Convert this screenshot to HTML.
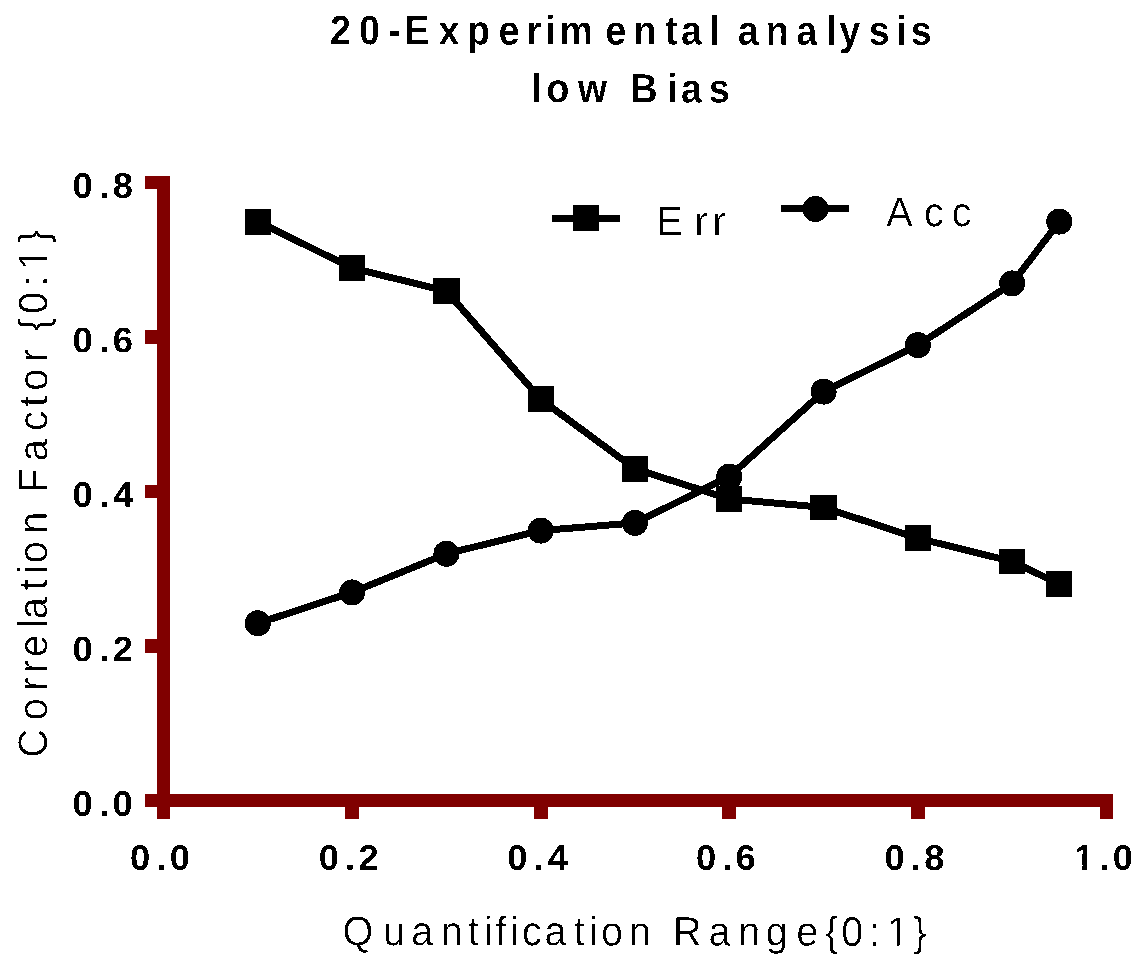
<!DOCTYPE html>
<html lang="en"><head><meta charset="utf-8"><title>20-Experimental analysis low Bias</title>
<style>
html,body{margin:0;padding:0;background:#fff;}
body{width:1148px;height:973px;overflow:hidden;}
svg{display:block;}
text{font-family:"Liberation Sans",Arial,sans-serif;fill:#000;}
.title{font-size:41.2px;font-weight:bold;stroke:#fff;stroke-width:0.15px;}
.label{font-size:41.2px;font-weight:normal;stroke:#fff;stroke-width:0.22px;}
.tick{font-size:35.6px;font-weight:bold;}
</style></head><body>
<svg width="1148" height="973" viewBox="0 0 1148 973">
<defs><filter id="alias" x="0" y="0" width="1148" height="973" filterUnits="userSpaceOnUse" color-interpolation-filters="sRGB"><feComponentTransfer><feFuncR type="discrete" tableValues="0 1"/><feFuncG type="discrete" tableValues="0 1"/><feFuncB type="discrete" tableValues="0 1"/></feComponentTransfer></filter></defs>
<g filter="url(#alias)">
<rect x="0" y="0" width="1148" height="973" fill="#fff"/>
<text class="title" transform="translate(331.4,44.3) rotate(0.05) scale(0.92,1)" y="0" x="-1.4 30.1 61.7 79.1 116.5 147.4 181.7 212.1 232.1 247.6 297.8 328.4 362.7 379.9 410.9 422.3 441.6 472.2 505.3 537.9 552.0 584.0 614.0 629.8">20-Experimental analysis</text>
<text class="title" transform="translate(533.8,102.3) rotate(0.05) scale(0.92,1)" y="0" x="-2.8 13.4 47.8 79.8 104.8 144.8 159.9 190.3">low Bias</text>
<text class="label" transform="translate(345.1,945.2) rotate(0.05) scale(0.96,1)" y="0" x="-2.7 39.7 68.8 99.7 127.9 144.4 156.8 171.7 184.2 207.8 238.5 254.2 266.5 295.5 318.5 341.5 378.6 409.5 438.3 469.9 499.8 516.9 545.9 563.9 591.9">Quantification Range{0:1}</text><g transform="translate(345.1,945.2) rotate(0.05) scale(0.96,1)" fill="#fff"><rect x="566.04" y="-3.68" width="8.42" height="4.68"/><rect x="577.70" y="-3.68" width="8.10" height="4.68"/></g>
<text class="label" transform="translate(46.9,755.0) rotate(-89.95) scale(0.96,1)" y="0" x="-2.6 36.3 67.0 85.1 102.1 132.2 141.4 171.6 188.5 199.7 230.4 253.4 273.4 306.1 337.8 362.7 379.4 409.1 422.8 441.8 459.3 487.9 505.1 533.3">Correlation Factor {0:1}</text><g transform="translate(46.9,755.0) rotate(-89.95) scale(0.96,1)" fill="#fff"><rect x="507.24" y="-3.68" width="8.42" height="4.68"/><rect x="518.90" y="-3.68" width="8.10" height="4.68"/></g>
<text class="label" transform="translate(659.8,235.3) rotate(0.05) scale(0.96,1)" y="0" x="-3.5 36.1 54.8">Err</text>
<text class="label" transform="translate(887.0,226.1) rotate(0.05) scale(0.96,1)" y="0" x="-0.7 38.6 67.4">Acc</text>
<text class="tick" transform="translate(131.5,869.7) rotate(0.05) scale(1.02,1)" y="0" x="-1.4 24.4 37.4">0.0</text>
<text class="tick" transform="translate(320.1,869.7) rotate(0.05) scale(1.02,1)" y="0" x="-1.4 24.4 37.6">0.2</text>
<text class="tick" transform="translate(508.7,869.7) rotate(0.05) scale(1.02,1)" y="0" x="-1.4 24.4 38.3">0.4</text>
<text class="tick" transform="translate(697.3,869.7) rotate(0.05) scale(1.02,1)" y="0" x="-1.4 24.4 37.5">0.6</text>
<text class="tick" transform="translate(885.9,869.7) rotate(0.05) scale(1.02,1)" y="0" x="-1.4 24.4 37.7">0.8</text>
<text class="tick" transform="translate(1076.3,869.7) rotate(0.05) scale(1.02,1)" y="0" x="-2.2 22.7 35.7">1.0</text><g transform="translate(1076.3,869.7) rotate(0.05) scale(1.02,1)" fill="#fff"><rect x="-1.18" y="-4.23" width="6.97" height="5.23"/><rect x="10.87" y="-4.23" width="6.51" height="5.23"/></g>
<text class="tick" transform="translate(74.0,815.7) rotate(0.05) scale(1.02,1)" y="0" x="-1.4 25.0 37.8">0.0</text>
<text class="tick" transform="translate(74.0,661.2) rotate(0.05) scale(1.02,1)" y="0" x="-1.4 25.0 38.0">0.2</text>
<text class="tick" transform="translate(74.0,506.7) rotate(0.05) scale(1.02,1)" y="0" x="-1.4 25.0 38.7">0.4</text>
<text class="tick" transform="translate(74.0,352.2) rotate(0.05) scale(1.02,1)" y="0" x="-1.4 25.0 37.9">0.6</text>
<text class="tick" transform="translate(74.0,197.7) rotate(0.05) scale(1.02,1)" y="0" x="-1.4 25.0 38.1">0.8</text>
</g>
<g fill="#800000" shape-rendering="crispEdges">
<rect x="157" y="176" width="13" height="643"/>
<rect x="145" y="176" width="13" height="13"/>
<rect x="145" y="794" width="968" height="13"/>
<rect x="145" y="639" width="13" height="14"/>
<rect x="145" y="485" width="13" height="13"/>
<rect x="145" y="330" width="13" height="14"/>
<rect x="345" y="806" width="14" height="13"/>
<rect x="534" y="806" width="14" height="13"/>
<rect x="722" y="806" width="14" height="13"/>
<rect x="911" y="806" width="14" height="13"/>
<rect x="1100" y="806" width="13" height="13"/>
</g>
<g fill="none" stroke="#000" stroke-width="7" stroke-linejoin="round" shape-rendering="crispEdges">
<polyline points="257.8,221.6 352.1,268.0 446.4,291.1 540.7,399.3 635.0,468.8 729.3,499.0 823.6,507.4 917.9,538.3 1012.2,561.5 1059.3,584.0"/>
<polyline points="257.8,623.3 352.1,592.4 446.4,553.8 540.7,530.6 635.0,522.9 729.3,476.6 823.6,391.6 917.9,345.2 1012.2,283.4 1059.3,221.6"/>
<line x1="552" y1="218.5" x2="620" y2="218.5"/>
<line x1="781" y1="208.5" x2="849" y2="208.5"/>
</g>
<g fill="#000" shape-rendering="crispEdges">
<rect x="245" y="209" width="26" height="26"/>
<rect x="339" y="255" width="26" height="26"/>
<rect x="433" y="278" width="27" height="26"/>
<rect x="528" y="386" width="26" height="26"/>
<rect x="622" y="456" width="26" height="26"/>
<rect x="716" y="486" width="26" height="26"/>
<rect x="810" y="495" width="27" height="25"/>
<rect x="905" y="525" width="26" height="26"/>
<rect x="999" y="549" width="26" height="25"/>
<rect x="1046" y="571" width="26" height="26"/>
<rect x="573" y="205" width="26" height="26"/>
</g>
<g fill="#000" shape-rendering="crispEdges">
<circle cx="257.8" cy="623.3" r="13"/>
<circle cx="352.1" cy="592.4" r="13"/>
<circle cx="446.4" cy="553.8" r="13"/>
<circle cx="540.7" cy="530.6" r="13"/>
<circle cx="635.0" cy="522.9" r="13"/>
<circle cx="729.3" cy="476.6" r="13"/>
<circle cx="823.6" cy="391.6" r="13"/>
<circle cx="917.9" cy="345.2" r="13"/>
<circle cx="1012.2" cy="283.4" r="13"/>
<circle cx="1059.3" cy="221.6" r="13"/>
<circle cx="815.5" cy="209" r="13"/>
</g>
</svg>
</body></html>
